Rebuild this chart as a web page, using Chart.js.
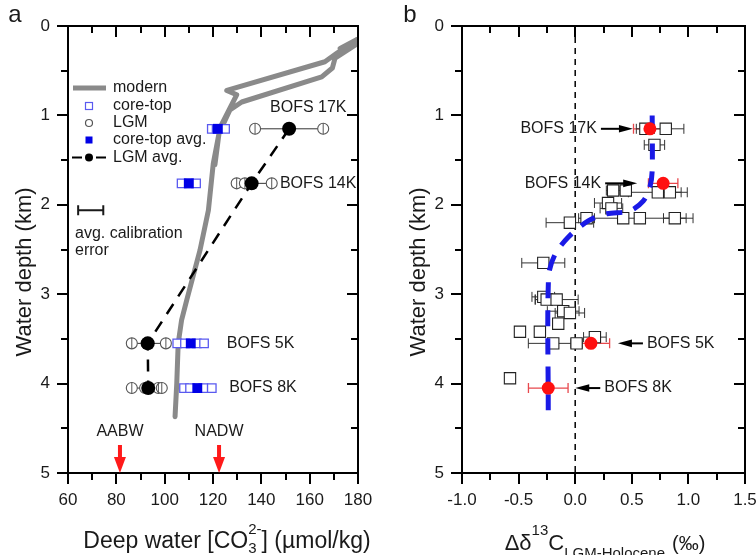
<!DOCTYPE html>
<html>
<head>
<meta charset="utf-8">
<title>Deep water carbonate ion and δ13C profiles</title>
<script src="https://cdn.jsdelivr.net/npm/chart.js@4.4.1/dist/chart.umd.min.js"></script>
<style>
  html, body { margin: 0; padding: 0; background: #fff; }
  #wrap { position: relative; width: 756px; height: 555px; overflow: hidden; }
  canvas { position: absolute; top: 0; }
  #panelA { left: 0; }
  #panelB { left: 378px; }
</style>
</head>
<body>
<div id="wrap">
  <canvas id="panelA" width="378" height="555"></canvas>
  <canvas id="panelB" width="378" height="555"></canvas>
</div>
<script>
// ---------------- panel a: carbonate ion ----------------
const modernCO3   = [104.3, 105.0, 105.6, 107.0, 109.1, 114.6, 118.1, 120.1, 123.0, 127.0, 129.8, 125.7,
                     166.3, 171.2, 179.6, 172.6, 179.6, 170.5, 169.4, 165.0, 131.9, 127.0, 122.5, 120.8];
const modernDepth = [4.37, 4.00, 3.55, 3.29, 3.07, 2.51, 2.06, 1.54, 1.13, 0.92, 0.77, 0.72,
                     0.40, 0.305, 0.15, 0.25, 0.20, 0.36, 0.47, 0.57, 0.85, 0.94, 1.20, 1.55];

const cores         = ['BOFS 17K', 'BOFS 14K', 'BOFS 5K', 'BOFS 8K'];
const coreDepth     = [1.15, 1.76, 3.55, 4.05];
const lgmCO3        = [[137.4, 165.6], [129.8, 133.2, 144.3], [86.4, 92.5, 100.5], [86.4, 91.9, 97.4, 98.8]];
const lgmAvgCO3     = [151.5, 136.0, 93.0, 93.2];
const coreTopCO3    = [[119.5, 121.5, 125.0], [107.0, 110.0, 113.0], [105.2, 108.4, 113.3, 116.3], [108.0, 110.5, 116.0, 119.5]];
const coreTopAvgCO3 = [122.0, 110.0, 110.8, 113.5];
const calibErrorCO3 = 5.2;            // average calibration error (± μmol/kg)
const waterMasses   = ['AABW', 'NADW'];
const waterMassCO3  = [81.5, 122.5];

// ---------------- panel b: Δδ13C (LGM − Holocene) ----------------
const profileD13C  = [0.68, 0.68, 0.66, 0.60, 0.48, 0.28, 0.115, -0.06, -0.18, -0.235, -0.238];
const profileDepth = [1.00, 1.62, 1.80, 1.96, 2.07, 2.10, 2.18, 2.36, 2.56, 2.80, 4.30];

const siteD13C  = [0.62, 0.80, 0.70, 0.335, 0.447, 0.73, 0.836, 0.29, 0.32, 0.10, 0.424, 0.571, 0.88, -0.047,
                   -0.282, -0.282, -0.252, -0.164, -0.106, -0.047, -0.15, -0.488, -0.312, -0.194, 0.012, 0.174, -0.576];
const siteDepth = [1.15, 1.15, 1.33, 1.84, 1.84, 1.86, 1.86, 1.98, 2.04, 2.15, 2.15, 2.15, 2.15, 2.20,
                   2.65, 3.03, 3.06, 3.06, 3.19, 3.21, 3.33, 3.42, 3.42, 3.55, 3.55, 3.48, 3.94];
const siteErr   = [0.08, 0.16, 0.09, 0.06, null, 0.26, 0.10, 0.12, 0.10, 0.07, null, 0.47, 0.10, 0.21,
                   0.19, 0.10, 0.10, 0.19, 0.14, 0.13, null, null, null, 0.22, 0.05, 0.10, null];

const coreD13C    = [0.66, 0.777, 0.139, -0.238];
const coreD13CErr = [0.145, 0.13, 0.165, 0.175];

// ---------------- shared look ----------------
const FONT = "'Liberation Sans', Arial, Helvetica, sans-serif";
const INK = '#1a1a1a';
Chart.defaults.font.family = FONT;
Chart.defaults.color = INK;
Chart.defaults.animation = false;

const pts = (xs, ys) => xs.map((v, i) => ({ x: v, y: ys[i] }));

function xAxis(min, max, step, fmt, height) {
  return {
    type: 'linear', min, max,
    grid: { display: false, drawTicks: false },
    border: { display: false },
    ticks: { stepSize: step, font: { size: 17 }, padding: 17, maxRotation: 0, autoSkip: false, color: INK, callback: fmt },
    afterFit(s) { s.height = height; s.paddingLeft = 0; s.paddingRight = 0; }
  };
}
function yAxis(width) {
  return {
    type: 'linear', reverse: true, min: 0, max: 5,
    grid: { display: false, drawTicks: false },
    border: { display: false },
    ticks: { stepSize: 1, font: { size: 17 }, padding: 18, color: INK, callback: v => String(v) },
    afterFit(s) { s.width = width; s.paddingTop = 0; s.paddingBottom = 0; }
  };
}

// frame with outward ticks on bottom/left and inward mirrored ticks on top/right
const frameTicks = {
  id: 'frameTicks',
  afterDatasetsDraw(chart, args, o) {
    const { ctx, chartArea: a, scales: { x, y } } = chart;
    ctx.save();
    ctx.strokeStyle = '#000';
    ctx.lineWidth = 2;
    ctx.strokeRect(a.left, a.top, a.right - a.left, a.bottom - a.top);
    ctx.beginPath();
    const nx = Math.round((x.max - x.min) / o.xMinor);
    for (let i = 0; i <= nx; i++) {
      const v = x.min + i * o.xMinor, r = v / o.xMajor;
      const len = Math.abs(r - Math.round(r)) < 1e-6 ? o.major : o.minor;
      const px = Math.round(x.getPixelForValue(v));
      ctx.moveTo(px, a.bottom); ctx.lineTo(px, a.bottom + len);
      ctx.moveTo(px, a.top); ctx.lineTo(px, a.top + len);
    }
    const ny = Math.round((y.max - y.min) / o.yMinor);
    for (let i = 0; i <= ny; i++) {
      const v = y.min + i * o.yMinor, r = v / o.yMajor;
      const len = Math.abs(r - Math.round(r)) < 1e-6 ? o.major : o.minor;
      const py = Math.round(y.getPixelForValue(v));
      ctx.moveTo(a.left, py); ctx.lineTo(a.left - len, py);
      ctx.moveTo(a.right, py); ctx.lineTo(a.right - len, py);
    }
    ctx.stroke();
    ctx.restore();
  }
};

// horizontal error bars for datasets that carry an errX array
const errorBars = {
  id: 'errorBars',
  beforeDatasetsDraw(chart) {
    const { ctx, scales: { x } } = chart;
    chart.data.datasets.forEach((ds, i) => {
      if (!ds.errX) return;
      const meta = chart.getDatasetMeta(i);
      ctx.save();
      ctx.strokeStyle = ds.errColor;
      ctx.lineWidth = ds.errWidth || 1;
      meta.data.forEach((el, j) => {
        const e = ds.errX[j];
        if (e == null) return;
        const v = ds.data[j].x;
        const x0 = x.getPixelForValue(v - e), x1 = x.getPixelForValue(v + e), py = el.y, c = ds.errCap || 4;
        ctx.beginPath();
        ctx.moveTo(x0, py); ctx.lineTo(x1, py);
        ctx.moveTo(x0, py - c); ctx.lineTo(x0, py + c);
        ctx.moveTo(x1, py - c); ctx.lineTo(x1, py + c);
        ctx.stroke();
      });
      ctx.restore();
    });
  }
};

function drawRich(ctx, segs, cx, base) {
  const widths = segs.map(s => {
    ctx.font = `${s.size}px ${FONT}`;
    if (s.t !== undefined) return ctx.measureText(s.t).width;
    return Math.max(s.sub ? ctx.measureText(s.sub).width : 0, s.sup ? ctx.measureText(s.sup).width : 0);
  });
  const total = widths.reduce((p, w, i) => p + w + (segs[i].gap || 0), 0);
  let x = cx - total / 2;
  ctx.textAlign = 'left';
  ctx.textBaseline = 'alphabetic';
  segs.forEach((s, i) => {
    ctx.font = `${s.size}px ${FONT}`;
    if (s.t !== undefined) ctx.fillText(s.t, x, base);
    else {
      if (s.sub) ctx.fillText(s.sub, x, base + s.subDy);
      if (s.sup) ctx.fillText(s.sup, x, base + s.supDy);
    }
    x += widths[i] + (s.gap || 0);
  });
}

function yTitle(ctx, x, y) {
  ctx.save();
  ctx.translate(x, y);
  ctx.rotate(-Math.PI / 2);
  ctx.font = `22px ${FONT}`;
  ctx.fillStyle = INK;
  ctx.textAlign = 'center';
  ctx.textBaseline = 'middle';
  ctx.fillText('Water depth (km)', 0, 0);
  ctx.restore();
}

function arrowHead(ctx, tipX, tipY, dir, len, half) {
  ctx.beginPath();
  ctx.moveTo(tipX, tipY);
  ctx.lineTo(tipX - dir * len, tipY - half);
  ctx.lineTo(tipX - dir * len, tipY + half);
  ctx.closePath();
  ctx.fill();
}

// ---------------- panel a annotations ----------------
const panelAExtras = {
  id: 'panelAExtras',
  afterDraw(chart, args, o) {
    const { ctx, chartArea: a, scales: { x, y } } = chart;
    ctx.save();
    ctx.fillStyle = INK;
    ctx.strokeStyle = INK;

    ctx.font = `24px ${FONT}`;
    ctx.textAlign = 'center'; ctx.textBaseline = 'middle';
    ctx.fillText('a', 15, 15);

    yTitle(ctx, a.left - 43, 272);
    drawRich(ctx, [
      { t: 'Deep water [CO', size: 23 },
      { sub: '3', sup: '2-', size: 15, subDy: 5, supDy: -14 },
      { t: '] (\u00b5mol/kg)', size: 23 }
    ], 227, 548);

    // legend
    const lx = 89, tx = 113, rows = [88, 106, 123, 140, 157.5];
    ctx.font = `16px ${FONT}`;
    ctx.textAlign = 'left'; ctx.textBaseline = 'middle';
    ['modern', 'core-top', 'LGM', 'core-top avg.', 'LGM avg.'].forEach((t, i) => ctx.fillText(t, tx, rows[i]));
    ctx.lineWidth = 5; ctx.strokeStyle = '#8a8a8a';
    ctx.beginPath(); ctx.moveTo(73, rows[0]); ctx.lineTo(106, rows[0]); ctx.stroke();
    ctx.lineWidth = 1.2; ctx.strokeStyle = '#5a5af0';
    ctx.strokeRect(lx - 3.5, rows[1] - 3.5, 7, 7);
    ctx.strokeStyle = '#555';
    ctx.beginPath(); ctx.arc(lx, rows[2], 3.5, 0, Math.PI * 2); ctx.stroke();
    ctx.fillStyle = '#0000e6';
    ctx.fillRect(lx - 3.5, rows[3] - 3.5, 7, 7);
    ctx.fillStyle = '#000'; ctx.strokeStyle = '#000'; ctx.lineWidth = 2;
    ctx.beginPath(); ctx.moveTo(72, rows[4]); ctx.lineTo(82, rows[4]); ctx.moveTo(96, rows[4]); ctx.lineTo(106, rows[4]); ctx.stroke();
    ctx.beginPath(); ctx.arc(lx, rows[4], 4, 0, Math.PI * 2); ctx.fill();

    // average calibration error
    const cy = y.getPixelForValue(o.calibDepth);
    const c0 = x.getPixelForValue(o.calibCenter - calibErrorCO3), c1 = x.getPixelForValue(o.calibCenter + calibErrorCO3);
    ctx.lineWidth = 2; ctx.strokeStyle = INK;
    ctx.beginPath();
    ctx.moveTo(c0, cy); ctx.lineTo(c1, cy);
    ctx.moveTo(c0, cy - 5); ctx.lineTo(c0, cy + 5);
    ctx.moveTo(c1, cy - 5); ctx.lineTo(c1, cy + 5);
    ctx.stroke();
    ctx.fillStyle = INK;
    ctx.font = `16px ${FONT}`;
    ctx.textAlign = 'left'; ctx.textBaseline = 'middle';
    ctx.fillText('avg. calibration', 75, cy + 23);
    ctx.fillText('error', 75, cy + 40);

    // core names
    o.coreLabels.forEach((p, i) => {
      ctx.fillText(cores[i], x.getPixelForValue(p.x), y.getPixelForValue(coreDepth[i]) + p.dy);
    });

    // water mass end-members
    ctx.textAlign = 'center';
    waterMasses.forEach((name, i) => {
      const px = x.getPixelForValue(waterMassCO3[i]);
      ctx.fillStyle = INK;
      ctx.fillText(name, px, 432);
      ctx.fillStyle = '#ff1a1a';
      ctx.fillRect(px - 2, 445, 4, 14);
      ctx.beginPath();
      ctx.moveTo(px, a.bottom);
      ctx.lineTo(px - 6, 457);
      ctx.lineTo(px + 6, 457);
      ctx.closePath();
      ctx.fill();
    });
    ctx.restore();
  }
};

// ---------------- panel b annotations ----------------
const panelBExtras = {
  id: 'panelBExtras',
  afterDraw(chart, args, o) {
    const { ctx, chartArea: a, scales: { x, y } } = chart;
    ctx.save();
    ctx.fillStyle = INK;
    ctx.font = `24px ${FONT}`;
    ctx.textAlign = 'center'; ctx.textBaseline = 'middle';
    ctx.fillText('b', 32, 15);

    yTitle(ctx, a.left - 43, 272);
    drawRich(ctx, [
      { t: '\u0394\u03b4', size: 22 },
      { sup: '13', size: 15, supDy: -15 },
      { t: 'C', size: 22 },
      { sub: 'LGM-Holocene', size: 15, subDy: 8, gap: 7 },
      { t: '(\u2030)', size: 20 }
    ], 227, 550);

    // core arrows and names
    ctx.font = `16px ${FONT}`;
    ctx.textBaseline = 'middle';
    ctx.strokeStyle = '#000'; ctx.fillStyle = '#000'; ctx.lineWidth = 2;
    o.arrows.forEach((p, i) => {
      const py = y.getPixelForValue(coreDepth[i]);
      const tip = x.getPixelForValue(coreD13C[i]) + p.off;
      const dir = p.off < 0 ? 1 : -1;           // 1 = points right
      const tail = tip - dir * p.len;
      ctx.beginPath(); ctx.moveTo(tail, py); ctx.lineTo(tip - dir * 10, py); ctx.stroke();
      arrowHead(ctx, tip, py, dir, 14, 3.8);
      ctx.fillStyle = INK;
      ctx.textAlign = dir === 1 ? 'right' : 'left';
      ctx.fillText(cores[i], tail - dir * 4, py);
      ctx.fillStyle = '#000';
    });
    ctx.restore();
  }
};

// ---------------- panel a chart ----------------
const dsA = [];
dsA.push({ data: pts(lgmAvgCO3, coreDepth), showLine: true, borderColor: '#000', borderWidth: 2.5,
           borderDash: [12, 9], pointRadius: 7, pointBackgroundColor: '#000', pointBorderWidth: 0, order: 1 });
dsA.push({ data: pts(coreTopAvgCO3, coreDepth), pointStyle: 'rect', pointRadius: 7,
           pointBackgroundColor: '#0000e6', pointBorderColor: '#0000e6', pointBorderWidth: 0, order: 2 });
dsA.push({ data: coreTopCO3.flatMap((row, i) => row.map(v => ({ x: v, y: coreDepth[i] }))), pointStyle: 'rect',
           pointRadius: 6, pointBackgroundColor: '#fff', pointBorderColor: '#5a5af0', pointBorderWidth: 1.3, order: 3 });
const lgmFlat = lgmCO3.flatMap((row, i) => row.map(v => ({ x: v, y: coreDepth[i] })));
dsA.push({ data: lgmFlat, pointStyle: 'line', rotation: 90, pointRadius: 5.5,
           pointBorderColor: '#555', pointBorderWidth: 1, order: 4 });
dsA.push({ data: lgmFlat, pointRadius: 5.5, pointBackgroundColor: '#fff',
           pointBorderColor: '#555', pointBorderWidth: 1.1, order: 5 });
lgmCO3.forEach((row, i) => {
  const xs = row.concat([lgmAvgCO3[i]]);
  dsA.push({ data: [{ x: Math.min(...xs), y: coreDepth[i] }, { x: Math.max(...xs), y: coreDepth[i] }],
             showLine: true, borderColor: '#333', borderWidth: 1, pointRadius: 0, order: 6 });
});
coreTopCO3.forEach((row, i) => {
  dsA.push({ data: [{ x: Math.min(...row), y: coreDepth[i] }, { x: Math.max(...row), y: coreDepth[i] }],
             showLine: true, borderColor: '#5a5af0', borderWidth: 1, pointRadius: 0, order: 6 });
});
dsA.push({ data: pts(modernCO3, modernDepth), showLine: true, borderColor: '#8a8a8a', borderWidth: 5,
           borderJoinStyle: 'round', borderCapStyle: 'round', pointRadius: 0, order: 9 });

new Chart(document.getElementById('panelA'), {
  type: 'scatter',
  data: { datasets: dsA },
  options: {
    responsive: false, animation: false, events: [],
    layout: { padding: { top: 26, right: 20, left: 0, bottom: 0 } },
    scales: { x: xAxis(60, 180, 20, v => String(v), 82), y: yAxis(68) },
    plugins: {
      legend: { display: false }, tooltip: { enabled: false },
      frameTicks: { xMinor: 10, xMajor: 20, yMinor: 0.5, yMajor: 1, major: 11, minor: 7 },
      panelAExtras: {
        calibCenter: 69.4, calibDepth: 2.06,
        coreLabels: [{ x: 143.6, dy: -21 }, { x: 147.7, dy: 0 }, { x: 125.7, dy: 0 }, { x: 126.7, dy: 0 }]
      }
    }
  },
  plugins: [frameTicks, panelAExtras]
});

// ---------------- panel b chart ----------------
new Chart(document.getElementById('panelB'), {
  type: 'scatter',
  data: {
    datasets: [
      { data: pts(coreD13C, coreDepth), errX: coreD13CErr, errColor: '#e8484d', errWidth: 1.3, errCap: 5,
        pointRadius: 6.5, pointBackgroundColor: '#ff1010', pointBorderWidth: 0, order: 1 },
      { data: pts(profileD13C, profileDepth), showLine: true, borderColor: '#1a1ae6', borderWidth: 5,
        borderDash: [16, 12], tension: 0.3, pointRadius: 0, order: 3 },
      { data: pts(siteD13C, siteDepth), errX: siteErr, errColor: '#333', errWidth: 1, errCap: 5,
        pointStyle: 'rect', pointRadius: 8, pointBackgroundColor: '#fff', pointBorderColor: '#222',
        pointBorderWidth: 1.1, order: 5 },
      { data: [{ x: 0, y: 0 }, { x: 0, y: 5 }], showLine: true, borderColor: '#000', borderWidth: 1.5,
        borderDash: [6, 5], pointRadius: 0, order: 9 }
    ]
  },
  options: {
    responsive: false, animation: false, events: [],
    layout: { padding: { top: 26, right: 11, left: 0, bottom: 0 } },
    scales: { x: xAxis(-1, 1.5, 0.5, v => Number(v).toFixed(1), 82), y: yAxis(84) },
    plugins: {
      legend: { display: false }, tooltip: { enabled: false },
      frameTicks: { xMinor: 0.25, xMajor: 0.5, yMinor: 0.5, yMajor: 1, major: 11, minor: 7 },
      panelBExtras: {
        arrows: [{ off: -17, len: 32 }, { off: -26, len: 32 }, { off: 27, len: 25 }, { off: 27, len: 25 }]
      }
    }
  },
  plugins: [errorBars, frameTicks, panelBExtras]
});
</script>
</body>
</html>
